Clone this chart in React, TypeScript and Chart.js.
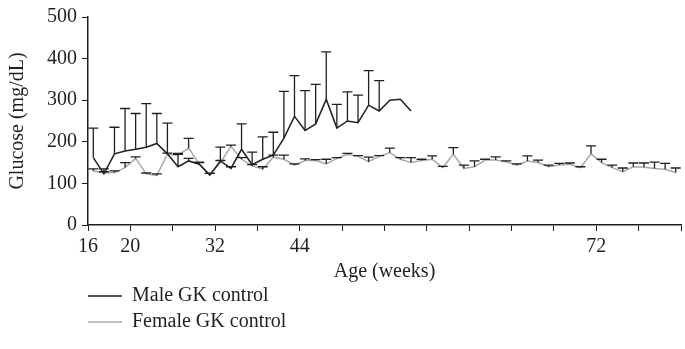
import { useEffect, useRef } from "react";
import { Chart, registerables } from "chart.js";

Chart.register(...registerables);

// Category positions along the age axis (one per measurement)
const categoryCount = 56;
const tickIndex = [0, 4, 12, 20, 48];
const tickText = ["16", "20", "32", "44", "72"];

// Male GK control: mean blood glucose (mg/dL) and SD (null = no bar)
const maleMean = [
  162, 123, 171, 178, 182, 187, 196, 171, 140, 154, 146, 120, 154, 136, 182, 145,
  158, 168, 209, 261, 227, 243, 302, 233, 250, 246, 288, 274, 300, 302, 274,
];
const maleSD = [
  71, 12, 64, 102, 86, 105, 72, 74, 30, 6, 4, 4, 33, 4, 61, 30,
  54, 55, 112, 98, 96, 95, 114, 57, 70, 66, 83, 73, null, null, null,
];

// Female GK control: mean blood glucose (mg/dL) and SD
const femaleMean = [
  130, 125, 126, 138, 160, 123, 119, 170, 168, 185, 147, 121, 150, 189, 158, 142,
  134, 163, 158, 144, 155, 155, 147, 160, 170, 165, 152, 165, 174, 158, 150, 155,
  158, 138, 170, 136, 140, 156, 156, 152, 144, 154, 150, 140, 144, 146, 138, 171,
  150, 138, 128, 140, 139, 136, 134, 126,
];
const femaleSD = [
  5, 3, 4, 12, 4, 2, 4, 3, 4, 23, 4, 3, 5, 3, 4, 3,
  6, 5, 10, 3, 4, 2, 11, 2, 2, 2, 11, 2, 11, 4, 12, 3,
  8, 3, 16, 8, 14, 2, 8, 2, 3, 12, 6, 4, 4, 3, 2, 19,
  8, 6, 9, 9, 10, 15, 14, 11,
];

const seriesNames = ["Male GK control", "Female GK control"];
const seriesColors = ["#231f20", "#a7a9ac"];

const INK = "#231f20";
const FONT_FAMILY = "'Liberation Serif', 'Times New Roman', serif";

const toPoints = (vals: number[]) => vals.map((v, i) => ({ x: i + 0.5, y: v }));

const errorBarPlugin = {
  id: "errorBars",
  afterDatasetsDraw(chart: any) {
    const { ctx, scales } = chart;
    const xs = scales.x;
    const ys = scales.y;
    const sets = [
      { mean: maleMean, sd: maleSD },
      { mean: femaleMean, sd: femaleSD },
    ];
    ctx.save();
    ctx.strokeStyle = INK;
    ctx.lineWidth = 1.3;
    sets.forEach(({ mean, sd }) => {
      mean.forEach((m, i) => {
        const s = sd[i];
        if (s == null) return;
        const x = xs.getPixelForValue(i + 0.5);
        const y0 = ys.getPixelForValue(m);
        const y1 = ys.getPixelForValue(m + s);
        ctx.beginPath();
        ctx.moveTo(x, y0);
        ctx.lineTo(x, y1);
        ctx.moveTo(x - 5, y1);
        ctx.lineTo(x + 5, y1);
        ctx.stroke();
      });
    });
    ctx.restore();
  },
};

const legendPlugin = {
  id: "bottomLegend",
  afterDraw(chart: any) {
    const { ctx } = chart;
    const rows = [296, 322];
    ctx.save();
    ctx.font = `20px ${FONT_FAMILY}`;
    ctx.textBaseline = "middle";
    ctx.textAlign = "left";
    seriesNames.forEach((name, k) => {
      const y = rows[k];
      ctx.strokeStyle = seriesColors[k];
      ctx.lineWidth = 1.5;
      ctx.beginPath();
      ctx.moveTo(88, y);
      ctx.lineTo(122, y);
      ctx.stroke();
      ctx.fillStyle = INK;
      ctx.fillText(name, 132, y);
    });
    ctx.restore();
  },
};

export default function App() {
  const canvasRef = useRef<HTMLCanvasElement | null>(null);

  useEffect(() => {
    const canvas = canvasRef.current;
    if (!canvas) return;
    const chart = new Chart(canvas, {
      type: "line",
      data: {
        datasets: [
          {
            label: seriesNames[0],
            data: toPoints(maleMean),
            borderColor: seriesColors[0],
            borderWidth: 1.5,
            pointRadius: 0,
            tension: 0,
          },
          {
            label: seriesNames[1],
            data: toPoints(femaleMean),
            borderColor: seriesColors[1],
            borderWidth: 1.5,
            pointRadius: 0,
            tension: 0,
          },
        ],
      },
      options: {
        responsive: false,
        animation: false,
        events: [],
        layout: { padding: { top: 14, right: 0, bottom: 65, left: 0 } },
        plugins: {
          legend: { display: false },
          tooltip: { enabled: false },
        },
        scales: {
          x: {
            type: "linear",
            min: 0,
            max: categoryCount,
            afterFit(scale: any) {
              scale.height = 59;
            },
            ticks: {
              stepSize: 4,
              autoSkip: false,
              maxRotation: 0,
              padding: 4,
              color: INK,
              font: { family: FONT_FAMILY, size: 20 },
              callback: (v: any) => {
                const k = tickIndex.indexOf(Number(v));
                return k >= 0 ? tickText[k] : "";
              },
            },
            grid: {
              display: true,
              drawOnChartArea: false,
              drawTicks: true,
              tickLength: 6,
              color: INK,
              lineWidth: 1,
            },
            border: { display: true, color: INK, width: 1.5 },
            title: {
              display: true,
              text: "Age (weeks)",
              color: INK,
              font: { family: FONT_FAMILY, size: 20 },
              padding: { top: 0, bottom: 0 },
            },
          },
          y: {
            type: "linear",
            min: 0,
            max: 500,
            afterFit(scale: any) {
              scale.width = 88;
            },
            ticks: {
              stepSize: 100,
              padding: 5,
              color: INK,
              font: { family: FONT_FAMILY, size: 20 },
            },
            grid: {
              display: true,
              drawOnChartArea: false,
              drawTicks: true,
              tickLength: 6,
              color: INK,
              lineWidth: 1,
            },
            border: { display: true, color: INK, width: 1.5 },
            title: {
              display: true,
              text: "Glucose (mg/dL)",
              color: INK,
              font: { family: FONT_FAMILY, size: 20 },
              padding: { top: 6, bottom: 0 },
            },
          },
        },
      },
      plugins: [errorBarPlugin, legendPlugin],
    });
    return () => chart.destroy();
  }, []);

  return (
    <div style={{ position: "fixed", left: 0, top: 0, width: 685, height: 349, background: "#fff" }}>
      <canvas ref={canvasRef} width={685} height={349} style={{ display: "block" }} />
    </div>
  );
}
